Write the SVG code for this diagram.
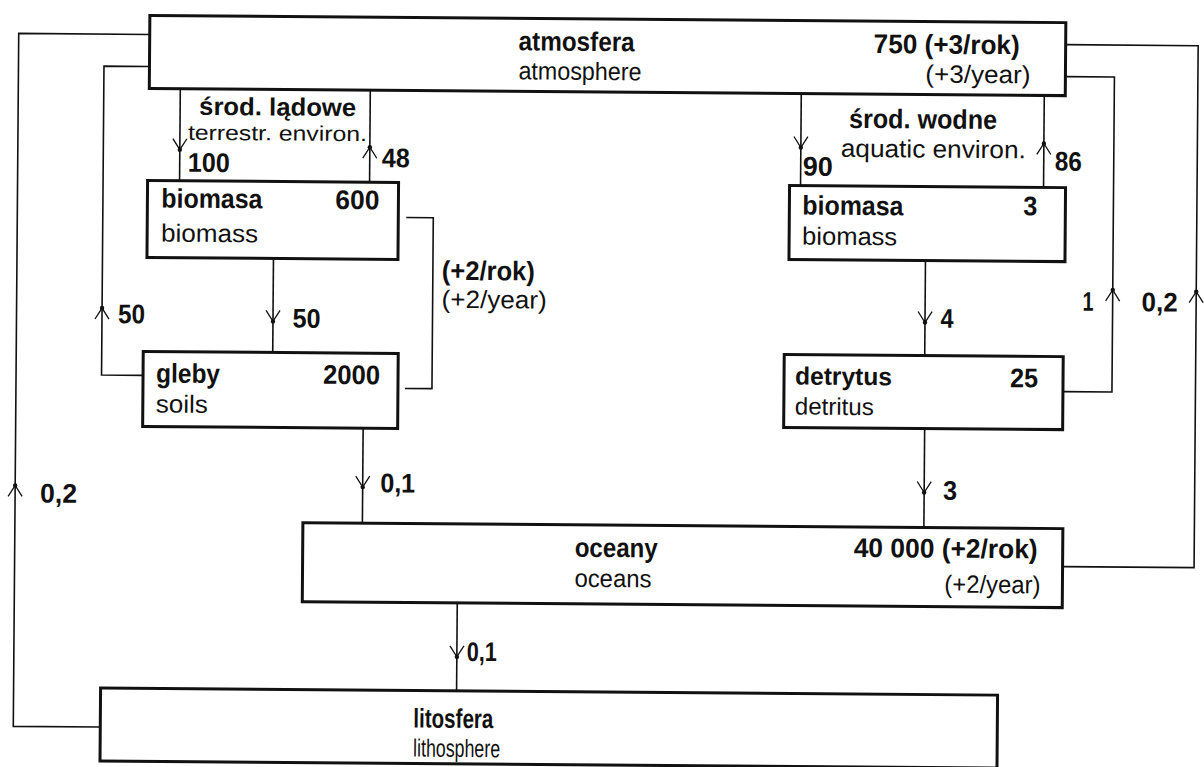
<svg xmlns="http://www.w3.org/2000/svg" width="1204" height="767" viewBox="0 0 1204 767">
<style>
.box{fill:#fff;stroke:#111;stroke-width:3}
.ln{fill:none;stroke:#111;stroke-width:1.6}
.ah{fill:none;stroke:#111;stroke-width:1.3}
.b{font-family:"Liberation Sans",Arial,sans-serif;font-weight:bold;font-size:27px;fill:#111}
.r{font-family:"Liberation Sans",Arial,sans-serif;font-size:25px;fill:#111}
</style>
<defs>
<g id="ad"><path class="ah" d="M-7,-11 L0,0 L7,-11"/><circle r="2.2" fill="#111"/></g>
<g id="au"><path class="ah" d="M-7,11 L0,0 L7,11"/><circle r="2.2" fill="#111"/></g>
</defs>
<rect width="1204" height="767" fill="#fff"/>
<g transform="rotate(0.45 602 383)">
<g id="connectors">
<path class="ln" d="M147,38 H16 V731 H103"/>
<path class="ln" d="M147,70 H101.5 V379 H143"/>
<path class="ln" d="M178,92 V184"/>
<path class="ln" d="M368,92 V184"/>
<path class="ln" d="M799,92 V184"/>
<path class="ln" d="M1042,92 V184"/>
<path class="ln" d="M272.5,261 V355"/>
<path class="ln" d="M405,219 H432 V390 H405"/>
<path class="ln" d="M363.5,430 V525"/>
<path class="ln" d="M924.5,258 V353"/>
<path class="ln" d="M925,426 V525"/>
<path class="ln" d="M1063,388 H1112 V73 H1063"/>
<path class="ln" d="M1064,563 H1195.5 V41 H1063"/>
<path class="ln" d="M459,604 V692"/>
<use href="#ad" x="178" y="153"/>
<use href="#au" x="368" y="149"/>
<use href="#ad" x="799" y="146"/>
<use href="#au" x="1042" y="140"/>
<use href="#ad" x="272.5" y="324"/>
<use href="#au" x="101.5" y="312"/>
<use href="#ad" x="363.5" y="489"/>
<use href="#ad" x="924.5" y="320"/>
<use href="#ad" x="925" y="490"/>
<use href="#au" x="1112" y="286"/>
<use href="#au" x="1195.5" y="287"/>
<use href="#ad" x="459" y="658"/>
<use href="#au" x="16" y="490"/>
<text class="b" x="186" y="175" textLength="42" lengthAdjust="spacingAndGlyphs">100</text>
<text class="b" x="380" y="169" textLength="28" lengthAdjust="spacingAndGlyphs">48</text>
<text class="b" x="801" y="174" textLength="30" lengthAdjust="spacingAndGlyphs">90</text>
<text class="b" x="1053" y="167" textLength="27" lengthAdjust="spacingAndGlyphs">86</text>
<text class="b" x="117.5" y="327" textLength="27" lengthAdjust="spacingAndGlyphs">50</text>
<text class="b" x="292" y="330" textLength="28" lengthAdjust="spacingAndGlyphs">50</text>
<text class="b" x="441" y="281" textLength="93" lengthAdjust="spacingAndGlyphs">(+2/rok)</text>
<text class="r" x="441" y="309" textLength="105" lengthAdjust="spacingAndGlyphs">(+2/year)</text>
<text class="b" x="940" y="325" textLength="13" lengthAdjust="spacingAndGlyphs">4</text>
<text class="b" x="1082" y="307" textLength="11" lengthAdjust="spacingAndGlyphs">1</text>
<text class="b" x="1141" y="307" textLength="36" lengthAdjust="spacingAndGlyphs">0,2</text>
<text class="b" x="381" y="494" textLength="35" lengthAdjust="spacingAndGlyphs">0,1</text>
<text class="b" x="944" y="497" textLength="14" lengthAdjust="spacingAndGlyphs">3</text>
<text class="b" x="469" y="662" textLength="30" lengthAdjust="spacingAndGlyphs">0,1</text>
<text class="b" x="41" y="507" textLength="37" lengthAdjust="spacingAndGlyphs">0,2</text>
</g>
<g id="labels">
<text class="b" x="197" y="118" style="font-size:25px" textLength="157" lengthAdjust="spacingAndGlyphs">środ. lądowe</text>
<text class="r" x="186" y="143" style="font-size:21px" textLength="179" lengthAdjust="spacingAndGlyphs">terrestr. environ.</text>
<text class="b" x="847" y="126" textLength="148" lengthAdjust="spacingAndGlyphs">środ. wodne</text>
<text class="r" x="839" y="155" textLength="185" lengthAdjust="spacingAndGlyphs">aquatic environ.</text>
</g>
<g id="atmosfera">
<rect class="box" x="147" y="19" width="916" height="73"/>
<text class="b" x="516" y="51" textLength="116" lengthAdjust="spacingAndGlyphs">atmosfera</text>
<text class="r" x="516" y="80" textLength="123" lengthAdjust="spacingAndGlyphs">atmosphere</text>
<text class="b" x="871" y="51" textLength="146" lengthAdjust="spacingAndGlyphs">750 (+3/rok)</text>
<text class="r" x="923" y="80" textLength="105" lengthAdjust="spacingAndGlyphs">(+3/year)</text>
</g>
<g id="biomasa-lad">
<rect class="box" x="146" y="184" width="251" height="77"/>
<text class="b" x="160" y="211" textLength="101" lengthAdjust="spacingAndGlyphs">biomasa</text>
<text class="b" x="334" y="211" textLength="44" lengthAdjust="spacingAndGlyphs">600</text>
<text class="r" x="160" y="245" textLength="97" lengthAdjust="spacingAndGlyphs">biomass</text>
</g>
<g id="gleby">
<rect class="box" x="143" y="355" width="255" height="75"/>
<text class="b" x="156" y="386" textLength="64" lengthAdjust="spacingAndGlyphs">gleby</text>
<text class="b" x="323" y="386" textLength="57" lengthAdjust="spacingAndGlyphs">2000</text>
<text class="r" x="156" y="416" textLength="52" lengthAdjust="spacingAndGlyphs">soils</text>
</g>
<g id="biomasa-woda">
<rect class="box" x="788" y="184" width="276" height="74"/>
<text class="b" x="801" y="213" textLength="101" lengthAdjust="spacingAndGlyphs">biomasa</text>
<text class="b" x="1022" y="212" textLength="14" lengthAdjust="spacingAndGlyphs">3</text>
<text class="r" x="801" y="243" textLength="95" lengthAdjust="spacingAndGlyphs">biomass</text>
</g>
<g id="detrytus">
<rect class="box" x="784" y="353" width="279" height="73"/>
<text class="b" x="795" y="383" style="font-size:25px" textLength="97" lengthAdjust="spacingAndGlyphs">detrytus</text>
<text class="b" x="1010" y="384" textLength="28" lengthAdjust="spacingAndGlyphs">25</text>
<text class="r" x="795" y="413" style="font-size:24px" textLength="79" lengthAdjust="spacingAndGlyphs">detritus</text>
</g>
<g id="oceany">
<rect class="box" x="304" y="525" width="760" height="79"/>
<text class="b" x="576" y="557" textLength="83" lengthAdjust="spacingAndGlyphs">oceany</text>
<text class="r" x="576" y="587" textLength="77" lengthAdjust="spacingAndGlyphs">oceans</text>
<text class="b" x="855" y="555" textLength="184" lengthAdjust="spacingAndGlyphs">40 000 (+2/rok)</text>
<text class="r" x="946" y="590" textLength="96" lengthAdjust="spacingAndGlyphs">(+2/year)</text>
</g>
<g id="litosfera">
<rect class="box" x="103" y="692" width="897" height="73"/>
<text class="b" x="416" y="729" textLength="80" lengthAdjust="spacingAndGlyphs">litosfera</text>
<text class="r" x="416" y="758" textLength="87" lengthAdjust="spacingAndGlyphs">lithosphere</text>
</g>
</g>
</svg>
